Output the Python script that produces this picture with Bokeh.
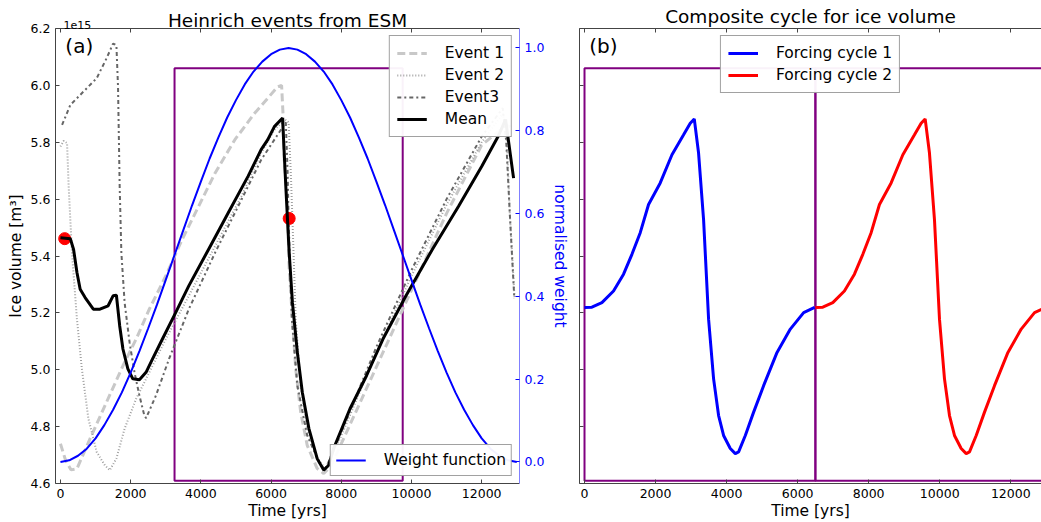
from bokeh.embed import file_html
from bokeh.layouts import row
from bokeh.models import (FixedTicker, Label, Legend, LegendItem, LinearAxis,
                          PrintfTickFormatter, Range1d, Title)
from bokeh.plotting import figure
from bokeh.resources import INLINE

# ---- data (ice volume in units of 1e15 m^3, time in years) ----
event1_t = [0, 150, 300, 470, 844, 1313, 1780, 2157, 2531, 3000, 3467, 3937, 4406, 4969,
            5531, 5906, 6187, 6300, 6340, 6375, 6468, 6516, 6609, 6702, 6843, 7030, 7312,
            7500, 7700, 8000, 9000, 10000, 11000, 12000, 12700, 12900]
event1_v = [4.74, 4.68, 4.648, 4.652, 4.758, 4.886, 5.014, 5.108, 5.213, 5.330, 5.458, 5.575,
            5.692, 5.809, 5.902, 5.955, 5.995, 6.000, 5.900, 5.738, 5.575, 5.353, 5.178,
            5.003, 4.851, 4.734, 4.653, 4.635, 4.660, 4.740, 5.010, 5.280, 5.550, 5.790,
            5.860, 5.850]

event2_t = [0, 93, 188, 234, 328, 470, 610, 796, 1032, 1265, 1406, 1594, 1828, 2157, 2531,
            3000, 3656, 4406, 5155, 5717, 6094, 6400, 6500, 6560, 6609, 6702, 6843, 7030,
            7312, 7547, 7967, 9000, 10000, 11000, 12000, 12600, 12700, 12800, 12936]
event2_v = [5.785, 5.805, 5.797, 5.645, 5.412, 5.178, 5.003, 4.828, 4.711, 4.664, 4.647,
            4.688, 4.793, 4.898, 4.991, 5.108, 5.260, 5.435, 5.610, 5.762, 5.844, 5.880,
            5.870, 5.700, 5.528, 5.178, 4.944, 4.793, 4.688, 4.653, 4.758, 5.060, 5.330,
            5.580, 5.800, 5.900, 5.850, 5.550, 5.250]

event3_t = [47, 281, 655, 1032, 1313, 1499, 1594, 1640, 1687, 1735, 1828, 1969, 2109, 2250,
            2390, 2440, 2719, 3093, 3656, 4406, 5155, 5717, 6280, 6420, 6470, 6500, 6590,
            6749, 7030, 7405, 7550, 8000, 9000, 10000, 11000, 12000, 12600, 12700, 12800,
            12930]
event3_v = [5.861, 5.931, 5.978, 6.025, 6.095, 6.147, 6.141, 5.995, 5.645, 5.412, 5.236,
            5.096, 4.991, 4.909, 4.839, 4.830, 4.909, 5.038, 5.213, 5.412, 5.598, 5.738,
            5.844, 5.870, 5.700, 5.528, 5.178, 4.944, 4.769, 4.664, 4.650, 4.780, 5.080,
            5.350, 5.600, 5.820, 5.920, 5.800, 5.550, 5.250]

mean_t = [0, 281, 374, 470, 562, 703, 936, 1125, 1358, 1499, 1594, 1687, 1780, 1921, 2061,
          2250, 2438, 2624, 2905, 3282, 3656, 4218, 4781, 5343, 5717, 5906, 6094, 6327,
          6420, 6516, 6609, 6749, 6890, 7078, 7312, 7500, 7641, 7781, 8248, 8718, 9187,
          9843, 10593, 11341, 11999, 12466, 12680, 12908]
mean_v = [5.464, 5.461, 5.423, 5.342, 5.283, 5.254, 5.213, 5.213, 5.225, 5.260, 5.262,
          5.155, 5.073, 5.003, 4.968, 4.965, 4.991, 5.038, 5.108, 5.201, 5.295, 5.423,
          5.552, 5.680, 5.774, 5.809, 5.855, 5.885, 5.645, 5.412, 5.236, 5.061, 4.921,
          4.793, 4.688, 4.647, 4.664, 4.723, 4.863, 4.979, 5.108, 5.260, 5.423, 5.575,
          5.715, 5.820, 5.880, 5.674]

marker_t = [121, 6516]
marker_v = [5.461, 5.532]

weight_t = list(range(0, 13001, 250))
weight_v = [0.000, 0.004, 0.015, 0.032, 0.057, 0.089, 0.126, 0.168, 0.216, 0.268, 0.323,
            0.380, 0.440, 0.500, 0.560, 0.620, 0.677, 0.733, 0.784, 0.832, 0.874, 0.912,
            0.943, 0.967, 0.985, 0.996, 1.000, 0.996, 0.985, 0.967, 0.943, 0.912, 0.874,
            0.832, 0.784, 0.733, 0.677, 0.620, 0.560, 0.500, 0.440, 0.380, 0.323, 0.268,
            0.216, 0.168, 0.126, 0.089, 0.057, 0.032, 0.015, 0.004, 0.000]

# composite cycle (one forcing period of 6500 yrs)
cycle_t = [0, 208, 490, 817, 1099, 1335, 1569, 1803, 2132, 2462, 2789, 2977, 3090, 3211,
           3352, 3493, 3634, 3775, 3915, 4104, 4245, 4338, 4527, 4761, 5042, 5420, 5794,
           6169, 6479]
cycle_v = [5.219, 5.220, 5.236, 5.277, 5.336, 5.406, 5.482, 5.581, 5.657, 5.756, 5.826,
           5.867, 5.882, 5.762, 5.528, 5.178, 4.968, 4.839, 4.769, 4.723, 4.705, 4.711,
           4.769, 4.851, 4.944, 5.061, 5.143, 5.201, 5.219]
cycle_period = 6500

# weighting windows
win_left = [3250]
win_right = [9750]
win2_left = [0, 6500]
win2_right = [6500, 13000]
win_bottom = 4.61
win_top = 6.06

x_ticks = [0, 2000, 4000, 6000, 8000, 10000, 12000]
y_ticks = [4.6, 4.8, 5.0, 5.2, 5.4, 5.6, 5.8, 6.0, 6.2]
w_ticks = [0.0, 0.2, 0.4, 0.6, 0.8, 1.0]

FONT = "DejaVu Sans"
SPINE = "#444444"
PURPLE = "#800080"


def style_axis(ax, ticks, fmt=None, labels=True):
    ax.ticker = FixedTicker(ticks=ticks)
    if fmt:
        ax.formatter = PrintfTickFormatter(format=fmt)
    ax.major_tick_in = 4
    ax.major_tick_out = 0
    ax.minor_tick_in = 0
    ax.minor_tick_out = 0
    ax.axis_line_color = SPINE
    ax.major_tick_line_color = SPINE
    ax.major_label_text_font = FONT
    if labels:
        ax.major_label_text_font_size = "12.5px"
        ax.major_label_text_color = "black"
        ax.major_label_standoff = 5
    else:
        # ticks only, like matplotlib's unlabeled spines
        ax.major_label_text_font_size = "0px"
        ax.major_label_text_color = None
        ax.major_label_standoff = 0
    ax.axis_label_text_font = FONT
    ax.axis_label_text_font_size = "15.5px"
    ax.axis_label_text_font_style = "normal"
    ax.axis_label_text_color = "black"
    ax.axis_label_standoff = 1


def make_legend(items, location, padding=7):
    leg = Legend(items=items, location=location)
    leg.label_text_font = FONT
    leg.label_text_font_size = "15.5px"
    leg.label_text_color = "black"
    leg.border_line_color = SPINE
    leg.border_line_width = 1
    leg.padding = padding
    leg.spacing = 2
    leg.label_height = 20
    leg.glyph_height = 20
    leg.glyph_width = 30
    leg.label_standoff = 18
    leg.margin = 7
    return leg


def style_title(t, standoff):
    t.align = "center"
    t.vertical_align = "bottom"
    t.text_font = FONT
    t.text_font_size = "18.5px"
    t.text_font_style = "normal"
    t.text_color = "black"
    t.standoff = standoff


# ---------------- panel (a) ----------------
p1 = figure(width=572, height=522, x_range=Range1d(-141, 13077), y_range=Range1d(4.6, 6.2),
            output_backend="svg", toolbar_location=None, tools="",
            min_border_left=55, min_border_right=47, min_border_top=28, min_border_bottom=37)
p1.outline_line_color = None
p1.xgrid.visible = False
p1.ygrid.visible = False
p1.extra_y_ranges = {"w": Range1d(-0.052, 1.047)}

style_axis(p1.xaxis[0], x_ticks)
p1.xaxis.axis_label = "Time [yrs]"
style_axis(p1.yaxis[0], y_ticks, "%.1f")
p1.yaxis.axis_label = "Ice volume [m³]"
p1.yaxis.axis_label_standoff = 3

top1 = LinearAxis()
style_axis(top1, x_ticks, labels=False)
p1.add_layout(top1, "above")
# axis offset text sits on the same row as the title
p1.add_layout(Title(text="1e15", align="left", vertical_align="bottom", standoff=0, offset=8,
                    text_font=FONT, text_font_size="11px", text_font_style="normal",
                    text_color="black"), "above")
p1.title.text = "Heinrich events from ESM"
style_title(p1.title, -24)

wax = LinearAxis(y_range_name="w", axis_label="normalised weight")
style_axis(wax, w_ticks, "%.1f")
wax.axis_line_color = "#8080ff"
wax.major_tick_line_color = "blue"
wax.major_label_text_color = "blue"
wax.axis_label_text_color = "blue"
wax.axis_label_standoff = 4
p1.add_layout(wax, "right")

p1.quad(left=win_left, right=win_right, bottom=win_bottom, top=win_top,
        fill_color=None, line_color=PURPLE, line_width=2)

r_e1 = p1.line(event1_t, event1_v, line_color="#c8c8c8", line_width=3, line_dash="8 4")
r_e2 = p1.line(event2_t, event2_v, line_color="#a0a0a0", line_width=2, line_dash="1 2")
r_e3 = p1.line(event3_t, event3_v, line_color="#666666", line_width=2, line_dash="4 3 2 3")
p1.scatter(marker_t, marker_v, size=12, color="red")
r_mean = p1.line(mean_t, mean_v, line_color="black", line_width=3)
r_w = p1.line(weight_t, weight_v, line_color="blue", line_width=2, y_range_name="w")

p1.add_layout(Label(x=140, y=6.18, text="(a)", text_font=FONT, text_font_size="20px",
                    text_baseline="top", text_color="black"))

leg_a = make_legend([LegendItem(label="Event 1", renderers=[r_e1]),
                     LegendItem(label="Event 2", renderers=[r_e2]),
                     LegendItem(label="Event3", renderers=[r_e3]),
                     LegendItem(label="Mean", renderers=[r_mean])], "top_right")
p1.add_layout(leg_a)
leg_w = make_legend([LegendItem(label="Weight function", renderers=[r_w])], "bottom_right",
                    padding=5)
p1.add_layout(leg_w)

# ---------------- panel (b) ----------------
p2 = figure(width=469, height=522, x_range=Range1d(-141, 12865), y_range=Range1d(4.6, 6.2),
            output_backend="svg", toolbar_location=None, tools="",
            min_border_left=7, min_border_right=0, min_border_top=28, min_border_bottom=37)
p2.title.text = "Composite cycle for ice volume"
style_title(p2.title, 4)
p2.outline_line_color = None
p2.xgrid.visible = False
p2.ygrid.visible = False

style_axis(p2.xaxis[0], x_ticks)
p2.xaxis.axis_label = "Time [yrs]"
style_axis(p2.yaxis[0], y_ticks, labels=False)
top2 = LinearAxis()
style_axis(top2, x_ticks, labels=False)
p2.add_layout(top2, "above")

p2.quad(left=win2_left, right=win2_right, bottom=win_bottom, top=win_top,
        fill_color=None, line_color=PURPLE, line_width=2)
r_c1 = p2.line(cycle_t, cycle_v, line_color="blue", line_width=3)
r_c2 = p2.line([t + cycle_period for t in cycle_t], cycle_v, line_color="red", line_width=3)

p2.add_layout(Label(x=132, y=6.18, text="(b)", text_font=FONT, text_font_size="20px",
                    text_baseline="top", text_color="black"))
leg_b = make_legend([LegendItem(label="Forcing cycle 1", renderers=[r_c1]),
                     LegendItem(label="Forcing cycle 2", renderers=[r_c2])], "top_center")
p2.add_layout(leg_b)

layout = row(p1, p2)
open("out.html", "w").write(file_html(layout, INLINE))
